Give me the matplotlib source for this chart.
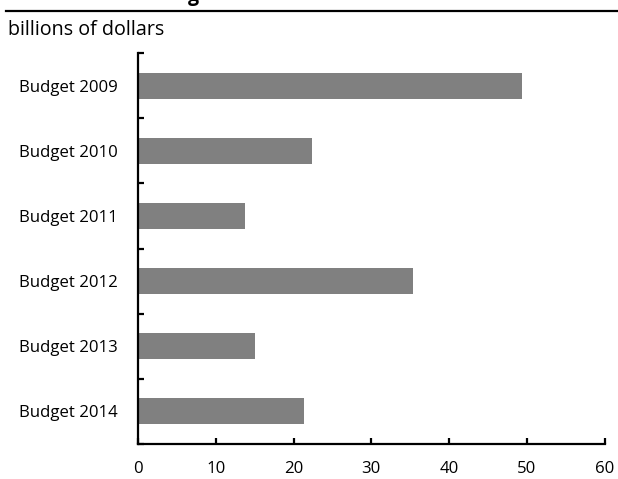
import matplotlib
matplotlib.use("Agg")
import matplotlib.pyplot as plt
from matplotlib.lines import Line2D
import numpy as np

categories = ["Budget 2009", "Budget 2010", "Budget 2011", "Budget 2012", "Budget 2013", "Budget 2014"]
values = [49.4, 22.4, 13.7, 35.35, 15.1, 21.3]
x_ticks = [0, 10, 20, 30, 40, 50, 60]
unit_label = "billions of dollars"
title_fragment = "g"

plt.rcParams['font.family'] = ['Open Sans', 'DejaVu Sans']

fig = plt.figure(figsize=(6.18, 4.79), dpi=100)
ax = fig.add_axes([138/618, 1-444/479, (604.5-138)/618, (444-53)/479])

y = np.arange(len(categories))
ax.barh(y, values, height=0.4, color='#808080', edgecolor='none')

ax.set_xlim(0, 60)
ax.set_ylim(len(categories)-0.5, -0.5)
ax.set_xticks(x_ticks)
ax.set_xticklabels([str(t) for t in x_ticks])
ax.set_yticks(y)
ax.set_yticklabels(categories)
ax.set_yticks(np.arange(-0.5, len(categories), 1.0), minor=True)

for s in ['top', 'right']:
    ax.spines[s].set_visible(False)
for s in ['left', 'bottom']:
    ax.spines[s].set_linewidth(1.6)
    ax.spines[s].set_color('black')

ax.tick_params(axis='y', which='major', length=0, pad=14.5, labelsize=12.1)
ax.tick_params(axis='y', which='minor', direction='in', length=4.5, width=1.6)
ax.tick_params(axis='x', which='major', direction='in', length=4.5, width=1.6, pad=12, labelsize=12.1)

fig.text(8/618, 1-30/479, unit_label, fontsize=14.2, ha='left', va='center')
fig.text(188/618, 1-0.5/479, title_fragment, fontsize=14, fontweight='bold', ha='left', va='baseline')
fig.add_artist(Line2D([6/618, 1.0], [1-11/479, 1-11/479], color='black', lw=1.6, transform=fig.transFigure))

fig.savefig("out.png", dpi=100)
